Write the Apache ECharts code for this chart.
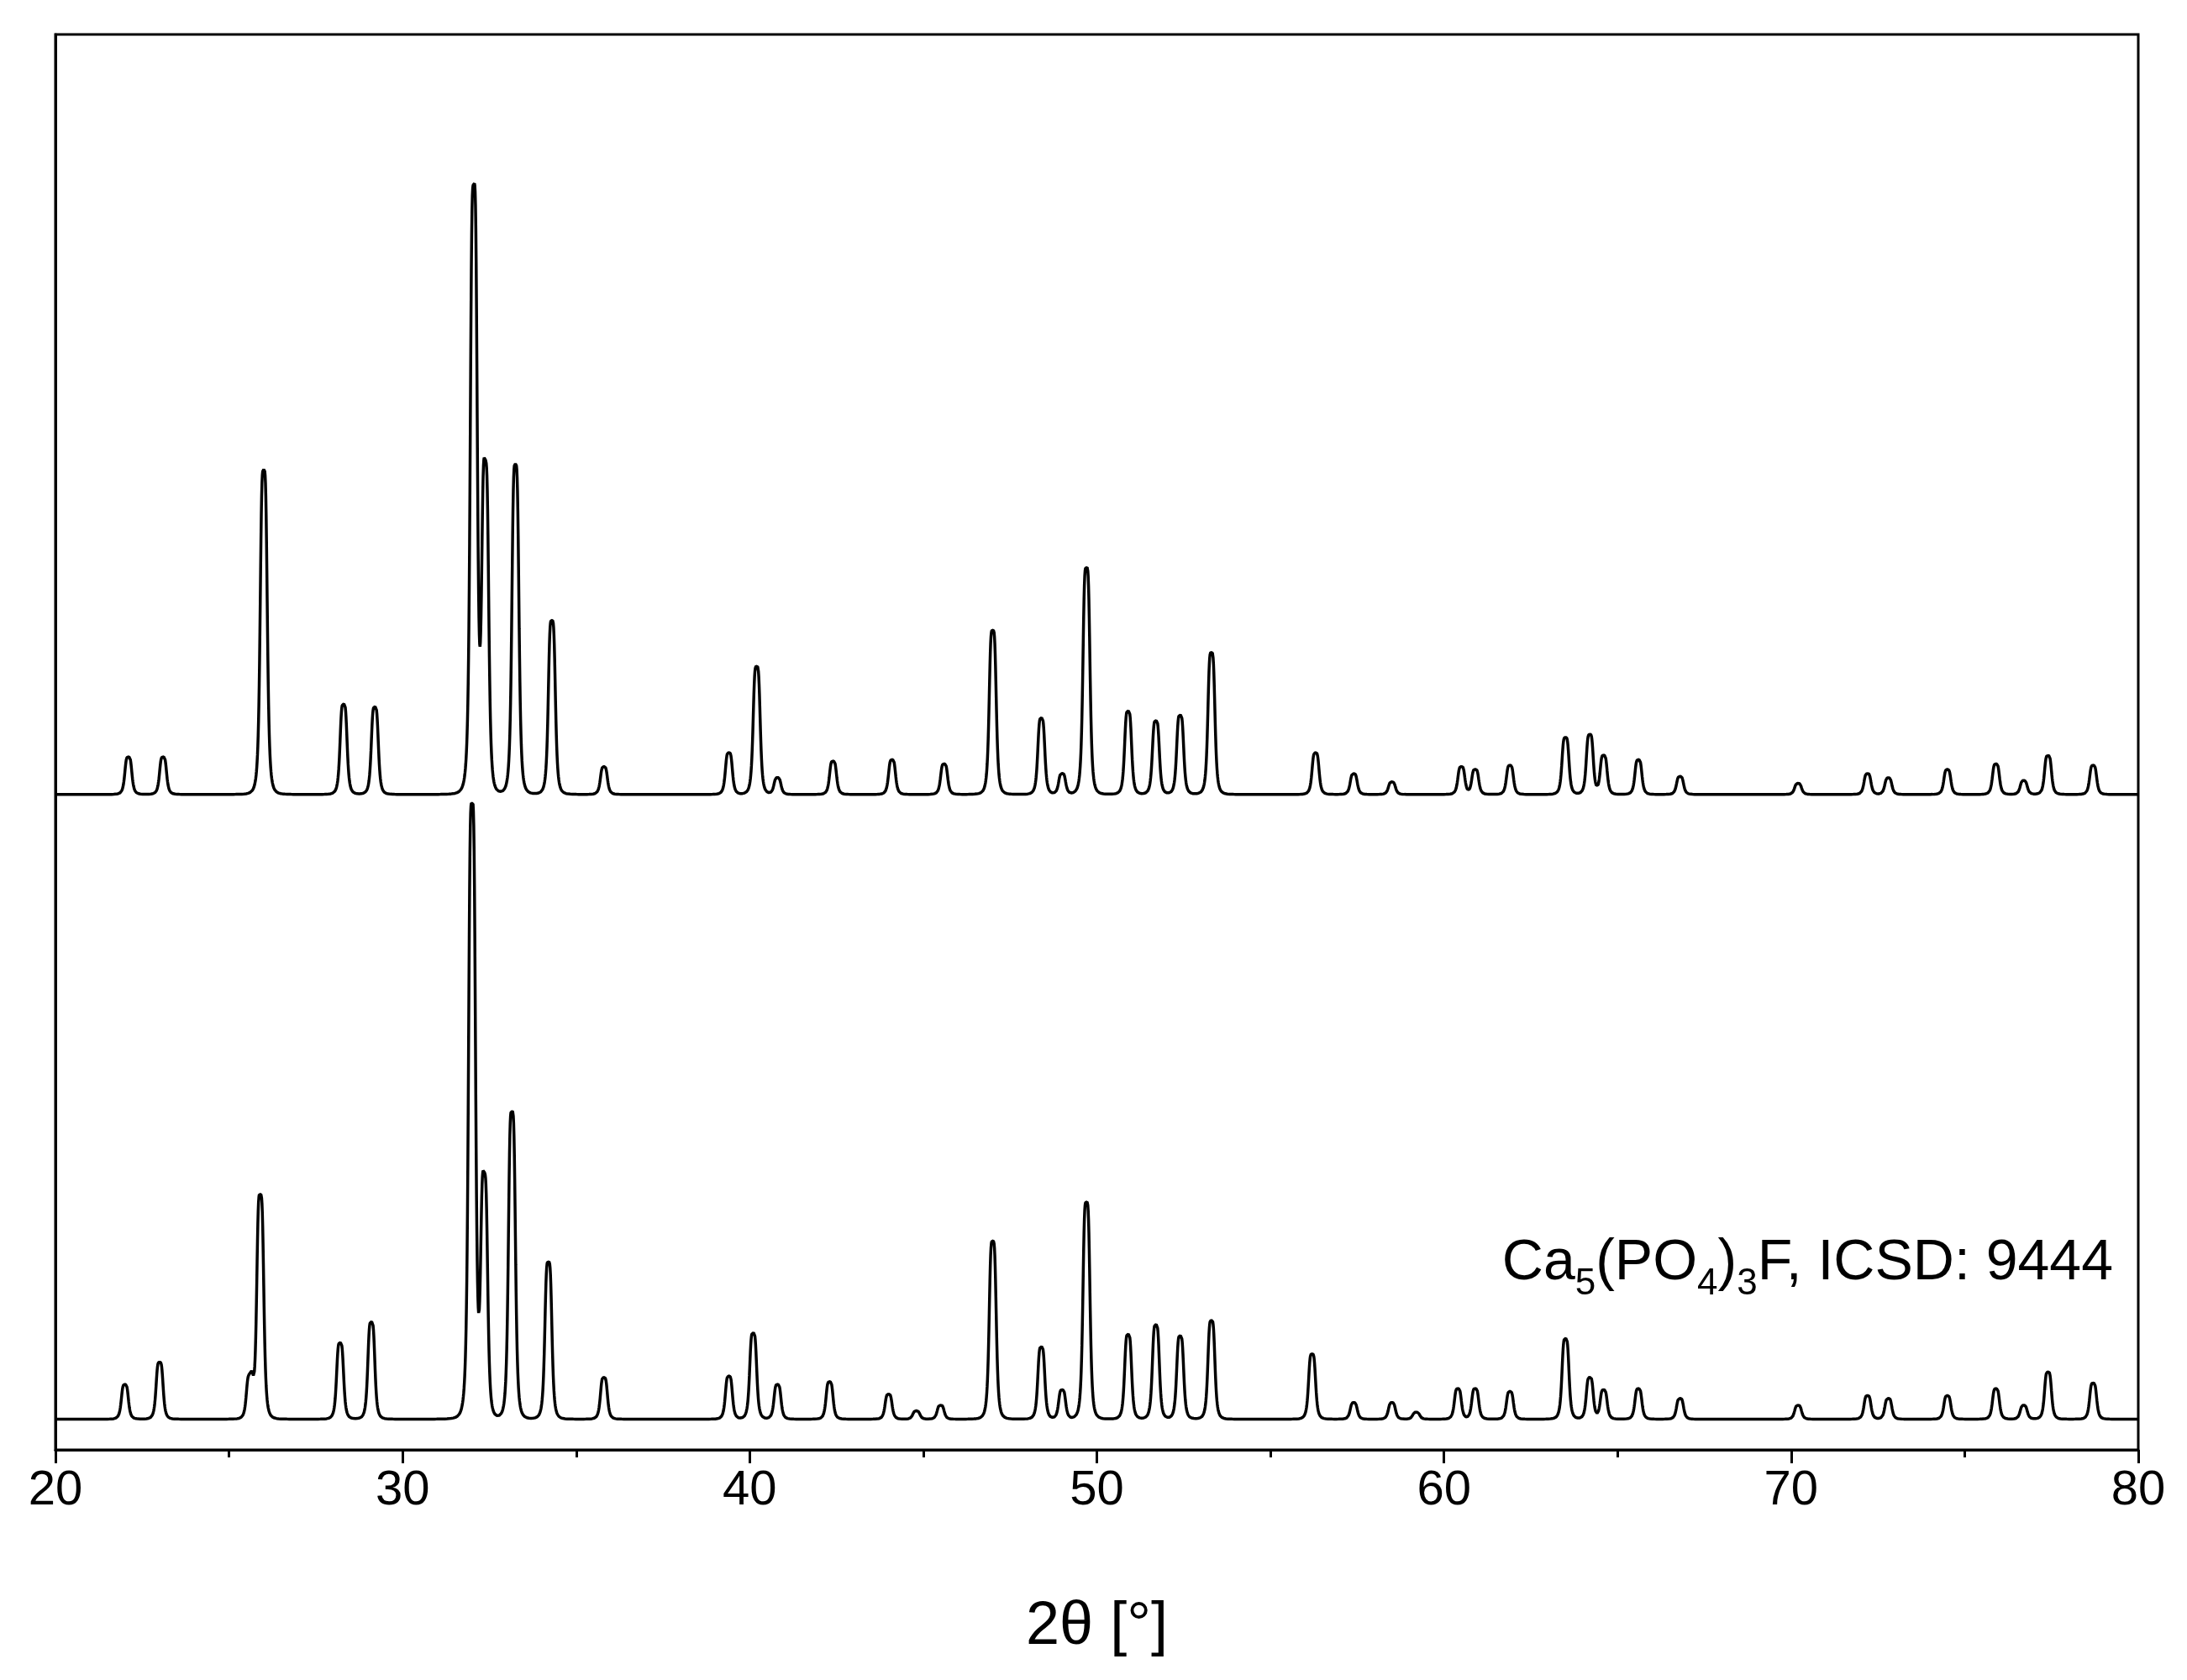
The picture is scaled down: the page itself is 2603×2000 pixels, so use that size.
<!DOCTYPE html>
<html><head><meta charset="utf-8">
<script src="https://cdn.jsdelivr.net/npm/echarts@6/dist/echarts.min.js"></script>
<style>html,body{margin:0;padding:0;background:#fff}#c{width:2603px;height:2000px}</style>
</head><body><div id="c"></div>
<script>
// Peak lists: [2theta, height above baseline]
const upperBase = 470;
const upperPeaks = [[22.1,27],[23.1,27],[26.0,233],[28.3,65],[29.2,63],[32.05,435],[32.38,235],[33.25,237],[34.3,125],[35.8,20],[39.4,30],[40.2,92],[40.8,12],[42.4,24],[44.1,25],[45.6,22],[47.0,118],[48.4,55],[49.0,15],[49.7,163],[50.9,60],[51.7,53],[52.4,57],[53.3,102],[56.3,30],[57.4,15],[58.5,9],[60.5,20],[60.9,18],[61.9,21],[63.5,41],[64.2,43],[64.6,28],[65.6,25],[66.8,13],[70.2,8],[72.2,15],[72.8,12],[74.5,18],[75.9,22],[76.7,10],[77.4,28],[78.7,21]];
const lowerBase = 22;
const lowerPeaks = [[22.0,25],[23.0,41],[25.6,30],[25.9,161],[28.2,55],[29.1,70],[32.0,441],[32.35,173],[33.15,221],[34.2,113],[35.8,30],[39.4,31],[40.1,62],[40.8,25],[42.3,27],[44.0,18],[44.8,6],[45.5,10],[47.0,128],[48.4,52],[49.0,21],[49.7,156],[50.9,61],[51.7,68],[52.4,60],[53.3,71],[56.2,47],[57.4,12],[58.5,12],[59.2,5],[60.4,22],[60.9,22],[61.9,20],[63.5,58],[64.2,30],[64.6,21],[65.6,22],[66.8,15],[70.2,10],[72.2,17],[72.8,15],[74.5,17],[75.9,22],[76.7,10],[77.4,34],[78.7,26]];
const xTicks = [20,30,40,50,60,70,80];

function profile(peaks, base){
  const pts=[];
  for(let i=0;i<=6000;i++){
    const x=20+i*0.01; let y=base;
    for(const [p,h] of peaks){const d=(x-p)/0.11; y+=h/(1+d*d*d*d);}
    pts.push([+x.toFixed(2),y]);
  }
  return pts;
}
const chart=echarts.init(document.getElementById('c'));
chart.setOption({
  animation:false,
  grid:{left:66,right:58,top:41,bottom:274,show:true,borderColor:'#000',borderWidth:3},
  xAxis:{type:'value',min:20,max:80,interval:10,
    axisLine:{show:true,onZero:false,lineStyle:{color:'#000',width:3}},
    axisTick:{show:true,inside:false,length:16,lineStyle:{color:'#000',width:3}},
    minorTick:{show:true,splitNumber:2,length:9,lineStyle:{color:'#000',width:3}},
    splitLine:{show:false},
    axisLabel:{fontSize:58,color:'#000',fontFamily:'Arial, Liberation Sans',margin:20,
      formatter:v=>xTicks.includes(v)?String(v):''},
    name:'2θ [°]',nameLocation:'middle',nameGap:175,
    nameTextStyle:{fontSize:72,color:'#000',fontFamily:'Arial, Liberation Sans'}},
  yAxis:{type:'value',min:0,max:1015,show:true,axisLine:{show:true,lineStyle:{color:'#000',width:3}},
    axisTick:{show:false},axisLabel:{show:false},splitLine:{show:false}},
  series:[
    {type:'line',data:profile(upperPeaks,upperBase),showSymbol:false,lineStyle:{color:'#000',width:3.5}},
    {type:'line',data:profile(lowerPeaks,lowerBase),showSymbol:false,lineStyle:{color:'#000',width:3.5}}
  ],
  graphic:[{type:'text',right:88,top:1470,style:{
    text:'{n|Ca}{s|5}{n|(PO}{s|4}{n|)}{s|3}{n|F, ICSD: 9444}',
    font:'68px Arial, Liberation Sans',fill:'#000',
    rich:{n:{fontSize:68,lineHeight:94,verticalAlign:'middle',fontFamily:'Arial, Liberation Sans',fill:'#000'},
          s:{fontSize:44,lineHeight:44,verticalAlign:'bottom',fontFamily:'Arial, Liberation Sans',fill:'#000'}}}}]
});
</script></body></html>
